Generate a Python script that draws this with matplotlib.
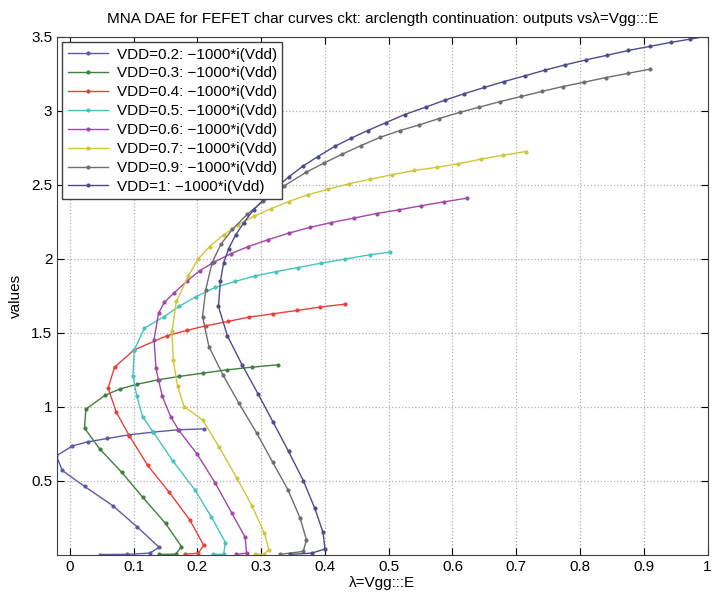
from __future__ import annotations

import matplotlib
matplotlib.use("Agg")
import matplotlib.pyplot as plt

plt.rcParams["font.family"] = ["Liberation Sans", "DejaVu Sans"]

labels = [
    "VDD=0.2: \u22121000*i(Vdd)",
    "VDD=0.3: \u22121000*i(Vdd)",
    "VDD=0.4: \u22121000*i(Vdd)",
    "VDD=0.5: \u22121000*i(Vdd)",
    "VDD=0.6: \u22121000*i(Vdd)",
    "VDD=0.7: \u22121000*i(Vdd)",
    "VDD=0.9: \u22121000*i(Vdd)",
    "VDD=1: \u22121000*i(Vdd)",
]
colors = ["#5a5aaa", "#3f7f3f", "#e8413a", "#46c2c2",
          "#a645a6", "#cfc63a", "#6e6e6e", "#4c4c8c"]

x02 = [0.048, 0.09, 0.125, 0.140, 0.106, 0.067, 0.023, -0.012, -0.021, 0.004,
       0.029, 0.059, 0.093, 0.131, 0.170, 0.211]
y02 = [0.002, 0.003, 0.011, 0.050, 0.187, 0.333, 0.462, 0.570, 0.669, 0.736,
       0.764, 0.786, 0.811, 0.829, 0.845, 0.851]

x03 = [0.14, 0.166, 0.175, 0.150, 0.114, 0.081, 0.047, 0.023, 0.025, 0.055,
       0.078, 0.106, 0.138, 0.171, 0.208, 0.247, 0.286, 0.327]
y03 = [0.003, 0.004, 0.056, 0.212, 0.390, 0.559, 0.714, 0.856, 0.984, 1.077,
       1.120, 1.153, 1.182, 1.205, 1.227, 1.250, 1.268, 1.284]

x04 = [0.18, 0.201, 0.210, 0.188, 0.156, 0.122, 0.093, 0.073, 0.060, 0.070,
       0.101, 0.152, 0.183, 0.213, 0.248, 0.281, 0.318, 0.356, 0.393, 0.432]
y04 = [0.003, 0.011, 0.063, 0.236, 0.421, 0.604, 0.806, 0.962, 1.126, 1.268,
       1.385, 1.480, 1.516, 1.547, 1.577, 1.606, 1.628, 1.651, 1.674, 1.694]

x05 = [0.225, 0.241, 0.244, 0.222, 0.196, 0.161, 0.131, 0.114, 0.105, 0.099,
       0.101, 0.117, 0.148, 0.171, 0.198, 0.228, 0.259, 0.291, 0.324, 0.358,
       0.394, 0.431, 0.470, 0.502]
y05 = [0.003, 0.004, 0.083, 0.255, 0.439, 0.637, 0.827, 0.934, 1.070, 1.209,
       1.385, 1.532, 1.610, 1.678, 1.745, 1.807, 1.847, 1.885, 1.914, 1.941,
       1.971, 1.998, 2.027, 2.045]

x06 = [0.26, 0.277, 0.275, 0.254, 0.228, 0.200, 0.171, 0.158, 0.145, 0.139,
       0.135, 0.132, 0.139, 0.148, 0.164, 0.183, 0.204, 0.226, 0.252, 0.280,
       0.310, 0.343, 0.376, 0.410, 0.445, 0.481, 0.516, 0.550, 0.587, 0.623]
y06 = [0.003, 0.011, 0.117, 0.282, 0.484, 0.678, 0.840, 0.934, 1.070, 1.182,
       1.261, 1.453, 1.633, 1.705, 1.772, 1.847, 1.921, 1.977, 2.034, 2.083,
       2.128, 2.173, 2.212, 2.245, 2.275, 2.306, 2.331, 2.358, 2.385, 2.410]

x07 = [0.29, 0.305, 0.312, 0.305, 0.286, 0.262, 0.234, 0.208, 0.179, 0.169,
       0.162, 0.160, 0.167, 0.186, 0.201, 0.219, 0.241, 0.264, 0.288, 0.315,
       0.343, 0.373, 0.405, 0.438, 0.471, 0.505, 0.540, 0.575, 0.609, 0.644,
       0.679, 0.715]
y07 = [0.003, 0.005, 0.034, 0.147, 0.327, 0.518, 0.728, 0.912, 1.002, 1.138,
       1.318, 1.509, 1.712, 1.885, 1.998, 2.083, 2.162, 2.230, 2.286, 2.338,
       2.387, 2.432, 2.471, 2.507, 2.538, 2.568, 2.597, 2.618, 2.642, 2.673,
       2.700, 2.725]

x09 = [0.33, 0.366, 0.371, 0.361, 0.342, 0.318, 0.293, 0.265, 0.240, 0.218,
       0.208, 0.213, 0.223, 0.237, 0.255, 0.278, 0.303, 0.335, 0.371, 0.398,
       0.427, 0.456, 0.486, 0.517, 0.548, 0.579, 0.611, 0.642, 0.675, 0.708,
       0.741, 0.773, 0.807, 0.841, 0.876, 0.910]
y09 = [0.003, 0.023, 0.101, 0.248, 0.439, 0.626, 0.822, 1.025, 1.216, 1.407,
       1.610, 1.790, 1.975, 2.10, 2.20, 2.30, 2.39, 2.49, 2.586, 2.646,
       2.707, 2.764, 2.820, 2.866, 2.905, 2.948, 2.989, 3.025, 3.063, 3.097,
       3.132, 3.164, 3.194, 3.225, 3.254, 3.282]

x10 = [0.345, 0.379, 0.400, 0.397, 0.384, 0.366, 0.343, 0.319, 0.295, 0.270,
       0.247, 0.233, 0.236, 0.241, 0.249, 0.260, 0.273, 0.288, 0.306, 0.324,
       0.344, 0.366, 0.389, 0.415, 0.441, 0.467, 0.496, 0.525, 0.558, 0.588,
       0.618, 0.650, 0.681, 0.713, 0.745, 0.777, 0.810, 0.843, 0.876, 0.910,
       0.942, 0.972, 1.0]
y10 = [0.003, 0.011, 0.039, 0.151, 0.315, 0.502, 0.698, 0.894, 1.088, 1.284,
       1.480, 1.678, 1.847, 1.971, 2.068, 2.162, 2.245, 2.331, 2.410, 2.484,
       2.556, 2.628, 2.691, 2.759, 2.815, 2.867, 2.921, 2.975, 3.025, 3.072,
       3.115, 3.158, 3.198, 3.236, 3.275, 3.311, 3.345, 3.376, 3.408, 3.436,
       3.462, 3.484, 3.505]

xs = [x02, x03, x04, x05, x06, x07, x09, x10]
ys = [y02, y03, y04, y05, y06, y07, y09, y10]

xticks = [0, 0.1, 0.2, 0.3, 0.4, 0.5, 0.6, 0.7, 0.8, 0.9, 1]
xticklabels = ["0", "0.1", "0.2", "0.3", "0.4", "0.5", "0.6", "0.7", "0.8", "0.9", "1"]
yticks = [0.5, 1, 1.5, 2, 2.5, 3, 3.5]
yticklabels = ["0.5", "1", "1.5", "2", "2.5", "3", "3.5"]


def main() -> None:
    fig = plt.figure(figsize=(7.14, 5.94), dpi=100)
    ax = fig.add_axes([0.080, 0.066, 0.911, 0.872])
    for x, y, c, lab in zip(xs, ys, colors, labels):
        ax.plot(x, y, "-", color=c, lw=1.0, marker=".", ms=4, label=lab)
    ax.set_xlim(-0.02, 1.0)
    ax.set_ylim(0, 3.5)
    ax.set_xticks(xticks)
    ax.set_xticklabels(xticklabels)
    ax.set_yticks(yticks)
    ax.set_yticklabels(yticklabels)
    ax.tick_params(direction="in", top=True, right=True, labelsize=11, length=5)
    ax.grid(True, linestyle=":", color="#b0b0b0", lw=0.9)
    for s in ax.spines.values():
        s.set_color("#404040")
    ax.set_title("MNA DAE for FEFET char curves ckt: arclength continuation: outputs vs\u03bb=Vgg:::E",
                 fontsize=11, pad=10)
    ax.set_xlabel("\u03bb=Vgg:::E", fontsize=11, labelpad=2)
    ax.set_ylabel("values", fontsize=11, labelpad=6)
    leg = ax.legend(loc="upper left", fontsize=11, handlelength=2.6,
                    handletextpad=0.6, borderaxespad=0.35, labelspacing=0.32,
                    fancybox=False, framealpha=1, borderpad=0.35)
    leg.get_frame().set_edgecolor("#404040")
    fig.savefig("out.png", dpi=100)
    plt.close(fig)


if __name__ == "__main__":
    main()
